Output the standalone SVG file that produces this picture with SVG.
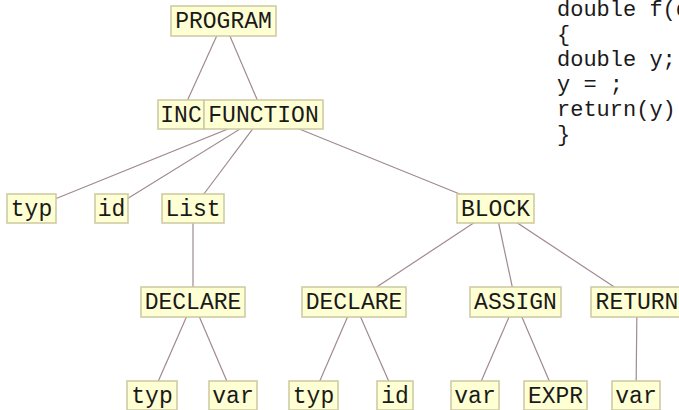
<svg xmlns="http://www.w3.org/2000/svg" width="679" height="410" viewBox="0 0 679 410">
<style>
.n rect{fill:#ffffd4;stroke:#cdc9a0;stroke-width:1.5}
.n text{font-family:"Liberation Mono","Courier New",monospace;font-size:23px;fill:#1a1a1a;text-anchor:middle}
.e line{stroke:#a08a8c;stroke-width:1.2}
.code{font-family:"Liberation Mono","Courier New",monospace;font-size:22px;fill:#1a1a1a}
</style>
<rect width="679" height="410" fill="#ffffff"/>
<g id="connectors" class="e">
<line x1="223.5" y1="21" x2="181" y2="114.5"/>
<line x1="223.5" y1="21" x2="263.5" y2="114.5"/>
<line x1="263.5" y1="114.5" x2="31.5" y2="208.5"/>
<line x1="263.5" y1="114.5" x2="111.5" y2="208.5"/>
<line x1="263.5" y1="114.5" x2="193" y2="208.5"/>
<line x1="263.5" y1="114.5" x2="495.5" y2="208.5"/>
<line x1="193" y1="208.5" x2="193" y2="302"/>
<line x1="495.5" y1="208.5" x2="354" y2="302"/>
<line x1="495.5" y1="208.5" x2="515.5" y2="302"/>
<line x1="495.5" y1="208.5" x2="637" y2="302"/>
<line x1="193" y1="302" x2="152" y2="395.5"/>
<line x1="193" y1="302" x2="233" y2="395.5"/>
<line x1="354" y1="302" x2="313.5" y2="395.5"/>
<line x1="354" y1="302" x2="395" y2="395.5"/>
<line x1="515.5" y1="302" x2="475" y2="395.5"/>
<line x1="515.5" y1="302" x2="555.5" y2="395.5"/>
<line x1="637" y1="302" x2="636" y2="395.5"/>
</g>
<g id="program" class="n"><rect x="171" y="6" width="105" height="30"/><text x="223.5" y="27.5">PROGRAM</text></g>
<g id="inc" class="n"><rect x="158" y="100" width="46" height="29"/><text x="181" y="121.5">INC</text></g>
<g id="function" class="n"><rect x="204" y="100" width="119" height="29"/><text x="263.5" y="121.5">FUNCTION</text></g>
<g id="typ1" class="n"><rect x="7" y="194" width="49" height="29"/><text x="31.5" y="215.5">typ</text></g>
<g id="id1" class="n"><rect x="95" y="194" width="33" height="29"/><text x="111.5" y="215.5">id</text></g>
<g id="list" class="n"><rect x="162" y="194" width="62" height="29"/><text x="193" y="215.5">List</text></g>
<g id="block" class="n"><rect x="457" y="194" width="77" height="29"/><text x="495.5" y="215.5">BLOCK</text></g>
<g id="declare1" class="n"><rect x="141" y="287" width="104" height="30"/><text x="193" y="308.5">DECLARE</text></g>
<g id="declare2" class="n"><rect x="302" y="287" width="104" height="30"/><text x="354" y="308.5">DECLARE</text></g>
<g id="assign" class="n"><rect x="470" y="287" width="91" height="30"/><text x="515.5" y="308.5">ASSIGN</text></g>
<g id="return" class="n"><rect x="591" y="287" width="92" height="30"/><text x="637" y="308.5">RETURN</text></g>
<g id="typ2" class="n"><rect x="127" y="381" width="50" height="29"/><text x="152" y="402.5">typ</text></g>
<g id="var1" class="n"><rect x="209" y="381" width="48" height="29"/><text x="233" y="402.5">var</text></g>
<g id="typ3" class="n"><rect x="289" y="381" width="49" height="29"/><text x="313.5" y="402.5">typ</text></g>
<g id="id2" class="n"><rect x="377" y="381" width="36" height="29"/><text x="395" y="402.5">id</text></g>
<g id="var2" class="n"><rect x="451" y="381" width="48" height="29"/><text x="475" y="402.5">var</text></g>
<g id="expr" class="n"><rect x="524" y="381" width="63" height="29"/><text x="555.5" y="402.5">EXPR</text></g>
<g id="var3" class="n"><rect x="612" y="381" width="48" height="29"/><text x="636" y="402.5">var</text></g>
<g id="code" class="code">
<text x="557" y="16">double f(d</text>
<text x="557" y="41">{</text>
<text x="557" y="66">double y;</text>
<text x="557" y="91">y = ;</text>
<text x="557" y="116">return(y)</text>
<text x="557" y="141">}</text>
</g>
</svg>
